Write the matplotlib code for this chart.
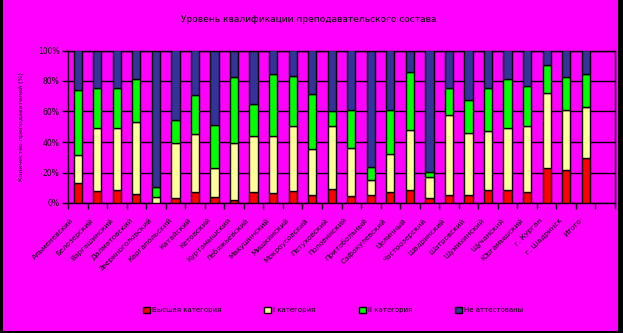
import matplotlib
matplotlib.use("Agg")
import matplotlib.pyplot as plt
import matplotlib.transforms as mtransforms
import numpy as np
from matplotlib.patches import Rectangle

categories = ["Альменевский", "Белозерский", "Варгашинский", "Далматовский",
              "Звериноголовский", "Каргапольский", "Катайский", "Кетовский",
              "Куртамышский", "Лебяжьевский", "Макушинский", "Мишкинский",
              "Мокроусовский", "Петуховский", "Половинский", "Притобольный",
              "Сафакулевский", "Целинный", "Частоозерский", "Шадринский",
              "Шатровский", "Шумихинский", "Щучанский", "Юргамышский",
              "г. Курган", "г. Шадринск", "Итого", ""]

# cumulative tops (%)
red_top = [13.3, 8.1, 8.8, 6.1, 0.0, 3.5, 7.4, 4.2, 2.2, 7.4, 6.8, 8.1, 5.5, 9.4,
           4.8, 5.5, 7.4, 8.8, 3.5, 5.5, 5.5, 8.8, 8.8, 7.4, 23.2, 21.9, 29.8, np.nan]
yellow_top = [31.7, 49.5, 49.5, 53.0, 4.2, 39.6, 45.5, 23.2, 39.6, 44.2, 44.2, 50.8, 35.7, 50.8,
              36.3, 15.3, 32.4, 48.1, 17.3, 58.0, 46.2, 47.5, 49.5, 50.8, 72.4, 61.3, 63.2, np.nan]
green_top = [74.4, 75.7, 75.1, 81.6, 10.7, 54.7, 71.1, 51.4, 82.3, 64.6, 84.9, 83.6, 71.8, 60.6,
             61.3, 23.9, 61.3, 86.2, 20.6, 75.7, 67.8, 75.1, 81.0, 76.4, 90.8, 82.9, 84.9, np.nan]

series_names = ["Высшая категория", "I категория", "II категория", "Не аттестованы"]
colors = ["#FF0000", "#FFFF99", "#00FF00", "#333399"]

red = np.array(red_top)
yel = np.array(yellow_top) - red
grn = np.array(green_top) - np.array(yellow_top)
blu = 100 - np.array(green_top)
series = [red, yel, grn, blu]

W, H = 623, 333
fig = plt.figure(figsize=(W / 100, H / 100), dpi=100, facecolor="black")
fig.patches.append(Rectangle((3 / W, 2 / H), 615 / W, 331 / H, transform=fig.transFigure,
                             facecolor="#FF00FF", edgecolor="none", zorder=-10))

ax = fig.add_axes([68 / W, 1 - 203 / H, (615 - 68) / W, (203 - 50.5) / H])
ax.set_zorder(5)
ax.set_facecolor("#FF00FF")
x = np.arange(len(categories))
bottom = np.zeros(len(categories))
handles = []
for vals, c, name in zip(series, colors, series_names):
    b = ax.bar(x, vals, bottom=bottom, width=0.42, color=c, edgecolor="black",
               linewidth=1.0, label=name, zorder=3)
    handles.append(b)
    bottom = bottom + np.nan_to_num(vals)

ax.set_xlim(-0.5, len(categories) - 0.5)
ax.set_ylim(0, 100)
ax.set_yticks([0, 20, 40, 60, 80, 100])
ax.set_yticklabels(["0%", "20%", "40%", "60%", "80%", "100%"], fontsize=5.5)
ax.yaxis.grid(True, color="black", linewidth=1.0, zorder=1)
ax.set_axisbelow(True)
for s in ax.spines.values():
    s.set_color("black")
    s.set_linewidth(1.0)
ax.tick_params(axis="y", direction="out", length=4, width=1, pad=2)
ax.set_xticks(x)
ax.set_xticklabels(categories, rotation=45, ha="right", rotation_mode="anchor",
                   fontsize=5.3)
ax.tick_params(axis="x", which="major", length=0, pad=10)
offset = mtransforms.ScaledTranslation(-7 / 100, 0, fig.dpi_scale_trans)
for lbl in ax.get_xticklabels():
    lbl.set_transform(lbl.get_transform() + offset)
ax.set_xticks(np.arange(-0.5, len(categories) + 0.5, 1), minor=True)
ax.tick_params(axis="x", which="minor", direction="out", length=4, width=1)

ax.set_ylabel("Количество преподавателей (%)", fontsize=4.5, labelpad=10)

fig.text(0.5 - 0.005, 1 - 20 / H, "Уровень квалификации преподавательского состава",
         ha="center", va="center", fontsize=6.5)

fig.legend(handles=handles, labels=series_names, loc="center",
           bbox_to_anchor=(333 / W, 1 - 310 / H), ncol=4, frameon=False,
           fontsize=5, handlelength=1.0, handleheight=1.0, handletextpad=0.3,
           columnspacing=6.2)

fig.savefig("out.png", dpi=100, facecolor=fig.get_facecolor())
